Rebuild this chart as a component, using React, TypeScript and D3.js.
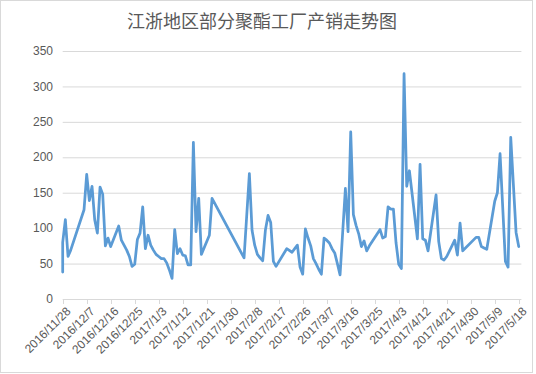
import { useMemo } from "react";
import * as d3 from "d3";

// 产销率 (%)
const dates = [
  "2016/11/28", "2016/11/28", "2016/11/29", "2016/11/30", "2016/12/1",
  "2016/12/6", "2016/12/7", "2016/12/8", "2016/12/9", "2016/12/10",
  "2016/12/11", "2016/12/12", "2016/12/13", "2016/12/14", "2016/12/15",
  "2016/12/16", "2016/12/19", "2016/12/20", "2016/12/21", "2016/12/22",
  "2016/12/23", "2016/12/24", "2016/12/25", "2016/12/26", "2016/12/27",
  "2016/12/28", "2016/12/29", "2016/12/30", "2016/12/31", "2017/1/1",
  "2017/1/2", "2017/1/3", "2017/1/4", "2017/1/5", "2017/1/6",
  "2017/1/7", "2017/1/8", "2017/1/9", "2017/1/10", "2017/1/11",
  "2017/1/12", "2017/1/13", "2017/1/14", "2017/1/15", "2017/1/16",
  "2017/1/17", "2017/1/18", "2017/1/19", "2017/1/22", "2017/1/23",
  "2017/2/4", "2017/2/6", "2017/2/7", "2017/2/8", "2017/2/9",
  "2017/2/10", "2017/2/11", "2017/2/12", "2017/2/13", "2017/2/14",
  "2017/2/15", "2017/2/16", "2017/2/20", "2017/2/22", "2017/2/23",
  "2017/2/24", "2017/2/25", "2017/2/26", "2017/2/27", "2017/2/28",
  "2017/3/1", "2017/3/2", "2017/3/3", "2017/3/4", "2017/3/5",
  "2017/3/6", "2017/3/7", "2017/3/8", "2017/3/9", "2017/3/10",
  "2017/3/11", "2017/3/12", "2017/3/14", "2017/3/15", "2017/3/16",
  "2017/3/17", "2017/3/18", "2017/3/19", "2017/3/20", "2017/3/21",
  "2017/3/22", "2017/3/23", "2017/3/27", "2017/3/28", "2017/3/29",
  "2017/3/30", "2017/3/31", "2017/4/1", "2017/4/2", "2017/4/3",
  "2017/4/4", "2017/4/5", "2017/4/6", "2017/4/7", "2017/4/10",
  "2017/4/11", "2017/4/12", "2017/4/13", "2017/4/14", "2017/4/17",
  "2017/4/18", "2017/4/19", "2017/4/20", "2017/4/21", "2017/4/24",
  "2017/4/25", "2017/4/26", "2017/4/27", "2017/5/2", "2017/5/3",
  "2017/5/4", "2017/5/5", "2017/5/6", "2017/5/9", "2017/5/10",
  "2017/5/11", "2017/5/13", "2017/5/14", "2017/5/15", "2017/5/17",
  "2017/5/18",
];

const values = [
  38, 80, 112, 60, 69,
  126, 176, 139, 159, 112,
  93, 158, 148, 75, 86,
  74, 103, 83, 76, 69,
  60, 46, 49, 84, 93,
  130, 71, 90, 76, 69,
  63, 60, 57, 57, 51,
  41, 29, 98, 64, 71,
  62, 61, 48, 48, 221,
  95, 142, 63, 90, 142,
  58, 177, 97, 76, 63,
  58, 54, 97, 118, 108,
  53, 46, 71, 66, 71,
  76, 45, 35, 99, 86,
  75, 57, 50, 42, 35,
  86, 83, 79, 71, 65,
  50, 34, 156, 95, 236,
  119, 104, 92, 74, 82,
  68, 75, 98, 86, 88,
  130, 127, 127, 79, 49,
  43, 318, 159, 181, 85,
  190, 85, 83, 68, 147,
  81, 57, 55, 60, 83,
  62, 107, 68, 87, 87,
  74, 72, 70, 138, 150,
  205, 53, 45, 228, 94,
  74,
];

const tickLabels = [
  "2016/11/28", "2016/12/7", "2016/12/16", "2016/12/25", "2017/1/3",
  "2017/1/12", "2017/1/21", "2017/1/30", "2017/2/8", "2017/2/17",
  "2017/2/26", "2017/3/7", "2017/3/16", "2017/3/25", "2017/4/3",
  "2017/4/12", "2017/4/21", "2017/4/30", "2017/5/9", "2017/5/18",
];

const yTicks = [0, 50, 100, 150, 200, 250, 300, 350];

const title = "江浙地区部分聚酯工厂产销走势图";

const W = 536;
const H = 374;
const left = 62.7;
const right = 521.4;
const top = 51;
const bottom = 299;
const textColor = "#595959";
const gridColor = "#d9d9d9";

export default function App() {
  const parse = d3.utcParse("%Y/%m/%d");

  const data = useMemo(
    () => dates.map((d, i) => ({ date: parse(d) as Date, value: values[i] })),
    []
  );

  const x = useMemo(() => {
    const start = parse(tickLabels[0]) as Date;
    const end = d3.utcDay.offset(parse(tickLabels[tickLabels.length - 1]) as Date, 1);
    return d3.scaleUtc().domain([start, end]).range([left, right]);
  }, []);

  const y = useMemo(
    () => d3.scaleLinear().domain([0, 350]).range([bottom, top]),
    []
  );

  const path = useMemo(() => {
    const line = d3
      .line<{ date: Date; value: number }>()
      .x((d) => x(d.date))
      .y((d) => y(d.value));
    return line(data) || "";
  }, [data, x, y]);

  return (
    <svg
      width={W}
      height={H}
      style={{ position: "absolute", left: 0, top: 0, background: "#fff" }}
      fontFamily="'Liberation Sans', Arial, sans-serif"
    >
      <rect x={0.5} y={0.5} width={532} height={372} fill="#fff" stroke={gridColor} />
      <text
        x={262}
        y={28}
        textAnchor="middle"
        fontSize={18}
        fill={textColor}
        fontFamily="'Noto Sans CJK SC', sans-serif"
      >
        {title}
      </text>

      {/* gridlines + y labels */}
      {yTicks.map((t) => (
        <g key={t}>
          {t > 0 && (
            <line x1={left} x2={right} y1={y(t) + 0.5} y2={y(t) + 0.5} stroke={gridColor} />
          )}
          <text
            x={53}
            y={y(t)}
            dy="0.35em"
            textAnchor="end"
            fontSize={12}
            fill={textColor}
          >
            {t}
          </text>
        </g>
      ))}

      {/* x axis */}
      <line x1={left} x2={right} y1={bottom + 0.5} y2={bottom + 0.5} stroke={gridColor} />
      {tickLabels.map((lab) => {
        const tx = Math.round(x(parse(lab) as Date)) + 0.5;
        return (
          <g key={lab}>
            <line x1={tx} x2={tx} y1={bottom} y2={bottom + 5} stroke={gridColor} />
            <text
              transform={`translate(${tx + 5},${bottom + 10}) rotate(-45)`}
              textAnchor="end"
              dy="0.35em"
              fontSize={12}
              fill={textColor}
            >
              {lab}
            </text>
          </g>
        );
      })}

      <path
        d={path}
        fill="none"
        stroke="#5b9bd5"
        strokeWidth={2.75}
        strokeLinejoin="round"
        strokeLinecap="round"
      />
    </svg>
  );
}
